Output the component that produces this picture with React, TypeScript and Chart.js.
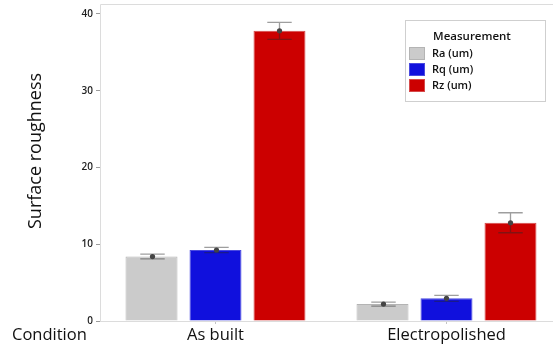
import React, { useEffect, useRef } from "react";
import { Chart, registerables } from "chart.js";

Chart.register(...registerables);

// Conditions on the x axis
const conditions = ["As built", "Electropolished"];

// Series labels
const seriesLabels = ["Ra (um)", "Rq (um)", "Rz (um)"];

// Mean roughness per condition
const raValues = [8.4, 2.2];
const rqValues = [9.25, 2.95];
const rzValues = [37.8, 12.8];

// Half-width of the error interval per condition
const raErrors = [0.3, 0.27];
const rqErrors = [0.35, 0.4];
const rzErrors = [1.1, 1.3];

// Value axis ticks
const yTicks = [0, 10, 20, 30, 40];
const yMax = 41.3;

const seriesColors = ["#cbcbcb", "#1010dd", "#cc0000"];
const seriesBorders = ["#b4b4b4", "#4a4ae0", "#d64a4a"];

const FONT = "'Open Sans', 'DejaVu Sans', sans-serif";
const TEXT = "#111111";

const frameAndLabels = {
  id: "frameAndLabels",
  beforeDatasetsDraw(chart: any) {
    const { ctx, chartArea } = chart;
    ctx.save();
    ctx.strokeStyle = "#dcdcdc";
    ctx.lineWidth = 1;
    ctx.beginPath();
    ctx.moveTo(chartArea.left + 0.5, chartArea.bottom + 0.5);
    ctx.lineTo(chartArea.left + 0.5, chartArea.top + 0.5);
    ctx.lineTo(chartArea.right, chartArea.top + 0.5);
    ctx.moveTo(chartArea.left, chartArea.bottom + 0.5);
    ctx.lineTo(chartArea.right, chartArea.bottom + 0.5);
    ctx.stroke();
    ctx.restore();
  },
  afterDraw(chart: any) {
    const { ctx } = chart;
    ctx.save();
    ctx.fillStyle = TEXT;
    // value axis title
    ctx.save();
    ctx.translate(36, 151);
    ctx.rotate(-Math.PI / 2);
    ctx.font = `18px ${FONT}`;
    ctx.textAlign = "center";
    ctx.textBaseline = "middle";
    ctx.fillText("Surface roughness", 0, 0);
    ctx.restore();
    // category axis caption
    ctx.font = `16.5px ${FONT}`;
    ctx.textAlign = "left";
    ctx.textBaseline = "middle";
    ctx.fillText("Condition", 12, 335);

    // legend box
    const bx = 405.5, by = 20.5, bw = 140, bh = 81;
    ctx.fillStyle = "#ffffff";
    ctx.fillRect(bx, by, bw, bh);
    ctx.strokeStyle = "#cfcfcf";
    ctx.lineWidth = 1;
    ctx.strokeRect(bx, by, bw, bh);
    ctx.fillStyle = TEXT;
    ctx.font = `600 11.5px ${FONT}`;
    ctx.textAlign = "center";
    ctx.fillText("Measurement", 472, 36.5);
    ctx.font = `600 11px ${FONT}`;
    ctx.textAlign = "left";
    chart.data.datasets.forEach((ds: any, i: number) => {
      const y = 47 + i * 16;
      ctx.fillStyle = ds.backgroundColor;
      ctx.fillRect(409, y, 16, 13);
      ctx.strokeStyle = ds.borderColor;
      ctx.strokeRect(409.5, y + 0.5, 15, 12);
      ctx.fillStyle = TEXT;
      ctx.fillText(ds.label, 432, y + 6.5);
    });
    ctx.restore();
  },
};

const errorBars = {
  id: "errorBars",
  afterDatasetsDraw(chart: any) {
    const { ctx } = chart;
    const yScale = chart.scales.y;
    ctx.save();
    chart.data.datasets.forEach((ds: any, i: number) => {
      const meta = chart.getDatasetMeta(i);
      meta.data.forEach((bar: any, j: number) => {
        const mean = ds.data[j];
        const err = ds.errors[j];
        const x = Math.round(bar.x) + 0.5;
        const yTop = yScale.getPixelForValue(mean + err);
        const yBot = yScale.getPixelForValue(mean - err);
        const yMid = yScale.getPixelForValue(mean);
        const half = bar.width * 0.235;
        ctx.strokeStyle = "rgba(40,40,40,0.45)";
        ctx.lineWidth = 1.3;
        ctx.beginPath();
        ctx.moveTo(x, yTop);
        ctx.lineTo(x, yBot);
        ctx.moveTo(x - half, yTop);
        ctx.lineTo(x + half, yTop);
        ctx.moveTo(x - half, yBot);
        ctx.lineTo(x + half, yBot);
        ctx.stroke();
        ctx.fillStyle = "#444444";
        ctx.beginPath();
        ctx.arc(x, yMid, 2.6, 0, Math.PI * 2);
        ctx.fill();
      });
    });
    ctx.restore();
  },
};

export default function App() {
  const canvasRef = useRef<HTMLCanvasElement | null>(null);

  useEffect(() => {
    if (!canvasRef.current) return;
    const values = [raValues, rqValues, rzValues];
    const errors = [raErrors, rqErrors, rzErrors];
    const chart = new Chart(canvasRef.current, {
      type: "bar",
      data: {
        labels: conditions,
        datasets: seriesLabels.map((label, i) => ({
          label,
          data: values[i],
          errors: errors[i],
          backgroundColor: seriesColors[i],
          borderColor: seriesBorders[i],
          borderWidth: 1,
          categoryPercentage: 0.831,
          barPercentage: 0.8125,
        })) as any,
      },
      options: {
        responsive: false,
        animation: false,
        devicePixelRatio: 1,
        layout: { padding: { top: 0, right: 0, bottom: 0, left: 0 } },
        plugins: {
          legend: { display: false },
          tooltip: { enabled: false },
        },
        scales: {
          x: {
            offset: true,
            border: { display: false },
            grid: {
              offset: false,
              drawOnChartArea: false,
              drawTicks: true,
              tickLength: 3,
              color: "#c4c4c4",
            },
            ticks: {
              color: TEXT,
              padding: 1,
              font: { family: FONT, size: 16.5 },
            },
            afterFit(scale: any) {
              scale.height = 28;
            },
          },
          y: {
            min: 0,
            max: yMax,
            border: { display: false },
            grid: {
              drawOnChartArea: false,
              drawTicks: true,
              tickLength: 4,
              color: "#9c9c9c",
            },
            afterBuildTicks(scale: any) {
              scale.ticks = yTicks.map((v) => ({ value: v }));
            },
            ticks: {
              color: "#222222",
              padding: 3,
              font: { family: FONT, size: 10, weight: 600, lineHeight: 0.2 },
            },
            afterFit(scale: any) {
              scale.width = 100;
            },
          },
        },
      },
      plugins: [frameAndLabels, errorBars],
    });
    return () => chart.destroy();
  }, []);

  return (
    <div
      style={{
        position: "fixed",
        left: 0,
        top: 0,
        width: 553,
        height: 349,
        overflow: "hidden",
        background: "#ffffff",
      }}
    >
      <canvas ref={canvasRef} width={562} height={349} style={{ display: "block" }} />
    </div>
  );
}
